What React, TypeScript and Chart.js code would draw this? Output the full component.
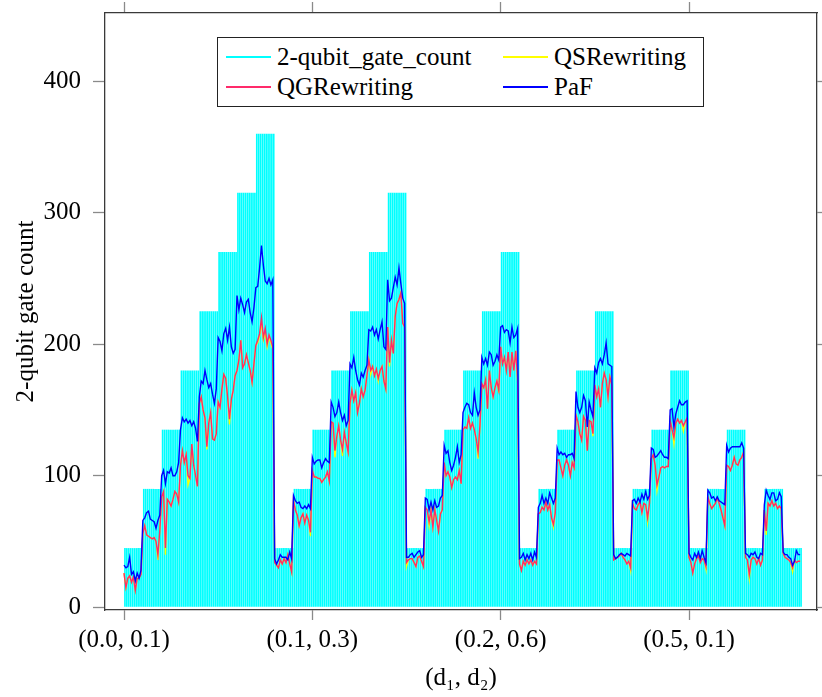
import React, { useEffect, useRef } from "react";
import { Chart, registerables } from "chart.js";

Chart.register(...registerables);

const SERIES_NAMES = ["2-qubit_gate_count", "QSRewriting", "QGRewriting", "PaF"];
const SERIES_COLORS = ["#00ffff", "#ffff00", "#ff2a6a", "#0000ff"];
const X_TICK_POSITIONS = [0, 100, 200, 300];
const X_TICK_LABELS = ["(0.0, 0.1)", "(0.1, 0.3)", "(0.2, 0.6)", "(0.5, 0.1)"];
const Y_TICKS = [0, 100, 200, 300, 400];
const X_TITLE = "(d\u2081, d\u2082)";
const Y_TITLE = "2-qubit gate count";

// 2-qubit gate count per configuration (360 configurations)
const GATE_COUNT = [
  45, 45, 45, 45, 45, 45, 45, 45, 45, 45,
  90, 90, 90, 90, 90, 90, 90, 90, 90, 90,
  135, 135, 135, 135, 135, 135, 135, 135, 135, 135,
  180, 180, 180, 180, 180, 180, 180, 180, 180, 180,
  225, 225, 225, 225, 225, 225, 225, 225, 225, 225,
  270, 270, 270, 270, 270, 270, 270, 270, 270, 270,
  315, 315, 315, 315, 315, 315, 315, 315, 315, 315,
  360, 360, 360, 360, 360, 360, 360, 360, 360, 360,
  45, 45, 45, 45, 45, 45, 45, 45, 45, 45,
  90, 90, 90, 90, 90, 90, 90, 90, 90, 90,
  135, 135, 135, 135, 135, 135, 135, 135, 135, 135,
  180, 180, 180, 180, 180, 180, 180, 180, 180, 180,
  225, 225, 225, 225, 225, 225, 225, 225, 225, 225,
  270, 270, 270, 270, 270, 270, 270, 270, 270, 270,
  315, 315, 315, 315, 315, 315, 315, 315, 315, 315,
  45, 45, 45, 45, 45, 45, 45, 45, 45, 45,
  90, 90, 90, 90, 90, 90, 90, 90, 90, 90,
  135, 135, 135, 135, 135, 135, 135, 135, 135, 135,
  180, 180, 180, 180, 180, 180, 180, 180, 180, 180,
  225, 225, 225, 225, 225, 225, 225, 225, 225, 225,
  270, 270, 270, 270, 270, 270, 270, 270, 270, 270,
  45, 45, 45, 45, 45, 45, 45, 45, 45, 45,
  90, 90, 90, 90, 90, 90, 90, 90, 90, 90,
  135, 135, 135, 135, 135, 135, 135, 135, 135, 135,
  180, 180, 180, 180, 180, 180, 180, 180, 180, 180,
  225, 225, 225, 225, 225, 225, 225, 225, 225, 225,
  45, 45, 45, 45, 45, 45, 45, 45, 45, 45,
  90, 90, 90, 90, 90, 90, 90, 90, 90, 90,
  135, 135, 135, 135, 135, 135, 135, 135, 135, 135,
  180, 180, 180, 180, 180, 180, 180, 180, 180, 180,
  45, 45, 45, 45, 45, 45, 45, 45, 45, 45,
  90, 90, 90, 90, 90, 90, 90, 90, 90, 90,
  135, 135, 135, 135, 135, 135, 135, 135, 135, 135,
  45, 45, 45, 45, 45, 45, 45, 45, 45, 45,
  90, 90, 90, 90, 90, 90, 90, 90, 90, 90,
  45, 45, 45, 45, 45, 45, 45, 45, 45, 45,
];

const QS_REWRITING = [
  26, 15, 22, 24, 19, 23, 13, 22, 22, 25,
  56, 62, 55, 54, 53, 52, 53, 50, 36, 58,
  84, 88, 40, 82, 80, 77, 82, 88, 86, 80,
  108, 119, 110, 116, 93, 98, 124, 108, 100, 92,
  155, 160, 150, 144, 120, 140, 148, 128, 127, 132,
  156, 152, 166, 177, 174, 160, 139, 158, 165, 176,
  180, 188, 203, 182, 185, 192, 186, 180, 171, 185,
  199, 201, 206, 216, 203, 208, 198, 205, 201, 196,
  34, 32, 30, 36, 33, 37, 34, 40, 33, 27,
  81, 74, 70, 62, 68, 71, 64, 70, 66, 54,
  104, 99, 99, 98, 98, 95, 97, 99, 103, 96,
  141, 140, 114, 130, 138, 127, 115, 133, 125, 118,
  153, 165, 157, 163, 148, 155, 166, 160, 165, 176,
  188, 177, 183, 176, 181, 172, 180, 183, 172, 166,
  213, 183, 203, 193, 221, 231, 234, 239, 216, 213,
  31, 36, 37, 37, 34, 31, 38, 39, 35, 31,
  76, 74, 62, 74, 61, 74, 66, 58, 71, 74,
  110, 100, 103, 99, 91, 97, 99, 97, 104, 94,
  135, 137, 136, 144, 136, 140, 135, 128, 113, 138,
  170, 167, 173, 151, 180, 167, 160, 167, 172, 163,
  198, 185, 190, 180, 194, 175, 194, 180, 195, 172,
  33, 28, 35, 32, 36, 33, 36, 32, 35, 33,
  71, 72, 76, 74, 80, 74, 78, 68, 61, 72,
  112, 112, 106, 100, 108, 112, 108, 100, 110, 106,
  146, 141, 132, 127, 145, 142, 119, 142, 141, 130,
  169, 160, 166, 152, 170, 178, 173, 160, 175, 169,
  36, 37, 38, 39, 41, 38, 36, 33, 35, 28,
  79, 75, 74, 78, 80, 72, 79, 78, 65, 79,
  113, 116, 108, 89, 99, 106, 107, 106, 107, 107,
  142, 135, 124, 140, 143, 140, 142, 134, 141, 144,
  38, 34, 26, 33, 37, 39, 34, 37, 36, 29,
  84, 79, 75, 77, 79, 83, 79, 74, 68, 62,
  108, 107, 104, 108, 114, 109, 108, 112, 114, 118,
  38, 36, 22, 36, 38, 37, 33, 37, 32, 36,
  74, 55, 79, 77, 81, 77, 79, 75, 77, 75,
  41, 38, 37, 36, 34, 27, 36, 34, 35, 35,
];

const QG_REWRITING = [
  26, 15, 22, 24, 19, 23, 13, 22, 22, 25,
  56, 62, 55, 54, 53, 52, 53, 50, 40, 58,
  84, 88, 45, 82, 80, 77, 82, 88, 86, 80,
  108, 119, 110, 116, 100, 98, 124, 108, 100, 92,
  155, 160, 150, 144, 122, 140, 148, 128, 127, 132,
  156, 152, 166, 177, 174, 160, 143, 158, 165, 176,
  180, 188, 203, 182, 185, 192, 186, 180, 171, 185,
  199, 203, 208, 220, 205, 212, 200, 207, 203, 198,
  34, 32, 30, 36, 33, 37, 34, 40, 33, 27,
  81, 74, 70, 62, 68, 71, 64, 70, 66, 57,
  104, 99, 99, 98, 98, 95, 97, 99, 103, 96,
  141, 140, 119, 130, 138, 127, 120, 133, 125, 118,
  155, 165, 157, 163, 148, 155, 166, 160, 165, 176,
  188, 180, 183, 176, 181, 174, 180, 183, 172, 166,
  213, 186, 203, 193, 221, 231, 234, 239, 216, 213,
  34, 36, 37, 37, 34, 31, 38, 39, 35, 31,
  76, 74, 65, 74, 61, 74, 66, 58, 71, 74,
  110, 100, 103, 99, 91, 97, 99, 97, 104, 94,
  135, 137, 136, 144, 136, 140, 135, 128, 118, 138,
  170, 167, 173, 151, 180, 167, 160, 167, 172, 165,
  198, 185, 190, 180, 194, 175, 194, 180, 195, 174,
  33, 28, 35, 32, 36, 33, 36, 32, 35, 33,
  71, 72, 76, 74, 80, 74, 78, 68, 63, 72,
  112, 112, 106, 100, 108, 112, 108, 100, 110, 106,
  146, 141, 132, 127, 145, 142, 119, 142, 141, 132,
  169, 160, 166, 152, 170, 178, 173, 160, 175, 169,
  36, 37, 38, 39, 41, 38, 36, 33, 35, 30,
  79, 75, 74, 78, 80, 72, 79, 78, 68, 79,
  113, 116, 108, 93, 99, 106, 107, 106, 107, 107,
  142, 135, 129, 140, 143, 140, 142, 138, 141, 144,
  38, 34, 26, 33, 37, 39, 34, 37, 36, 31,
  84, 79, 75, 77, 79, 83, 79, 74, 68, 62,
  108, 107, 104, 108, 114, 109, 108, 112, 114, 118,
  38, 36, 25, 36, 38, 37, 33, 37, 32, 36,
  74, 58, 79, 77, 81, 77, 79, 75, 77, 75,
  41, 38, 37, 36, 34, 30, 36, 34, 35, 35,
];

const PAF = [
  32, 30, 31, 38, 25, 27, 20, 26, 22, 28,
  66, 68, 72, 73, 67, 66, 65, 60, 66, 70,
  100, 104, 94, 103, 102, 106, 100, 100, 103, 110,
  135, 144, 141, 143, 140, 142, 138, 141, 136, 126,
  160, 172, 170, 180, 173, 167, 170, 162, 155, 166,
  205, 202, 195, 208, 212, 203, 213, 198, 193, 196,
  237, 226, 235, 230, 224, 232, 234, 224, 217, 228,
  243, 244, 258, 275, 260, 248, 246, 250, 245, 249,
  37, 33, 36, 40, 38, 38, 38, 36, 42, 37,
  85, 81, 79, 80, 76, 75, 77, 75, 78, 75,
  114, 109, 111, 112, 112, 106, 110, 113, 111, 110,
  156, 152, 145, 148, 156, 148, 142, 146, 138, 142,
  185, 182, 190, 180, 173, 169, 178, 175, 180, 184,
  211, 210, 213, 207, 211, 204, 211, 217, 198, 196,
  249, 233, 235, 243, 251, 245, 258, 246, 235, 231,
  38, 38, 40, 41, 38, 40, 42, 43, 38, 40,
  83, 82, 74, 80, 74, 81, 76, 77, 83, 85,
  123, 117, 119, 110, 104, 108, 114, 122, 110, 116,
  148, 152, 155, 154, 148, 146, 163, 152, 146, 150,
  190, 185, 189, 184, 194, 192, 184, 187, 192, 188,
  213, 214, 209, 211, 210, 201, 213, 205, 207, 212,
  37, 38, 41, 36, 40, 37, 41, 36, 42, 38,
  76, 79, 85, 79, 83, 79, 87, 83, 79, 83,
  121, 116, 118, 116, 117, 114, 116, 116, 117, 113,
  164, 152, 148, 152, 161, 157, 137, 156, 150, 145,
  182, 178, 186, 189, 185, 192, 201, 185, 184, 183,
  40, 37, 38, 40, 41, 40, 39, 41, 40, 39,
  81, 82, 79, 83, 80, 86, 82, 88, 82, 85,
  121, 120, 114, 115, 117, 119, 116, 114, 114, 113,
  150, 151, 137, 147, 152, 157, 154, 154, 156, 157,
  41, 38, 36, 41, 38, 42, 37, 43, 38, 34,
  89, 87, 83, 84, 81, 84, 81, 80, 79, 78,
  123, 118, 121, 122, 122, 122, 122, 122, 125, 121,
  41, 40, 38, 41, 40, 42, 38, 37, 41, 40,
  78, 89, 85, 82, 87, 87, 81, 82, 87, 84,
  42, 40, 40, 38, 37, 32, 35, 43, 40, 40,
];

const FONT_FAMILY = "'Liberation Serif', 'Times New Roman', serif";
const FONT_SIZE = 25;

export default function App() {
  const canvasRef = useRef<HTMLCanvasElement | null>(null);

  useEffect(() => {
    const canvas = canvasRef.current;
    if (!canvas) return;

    const X_MIN = -10.09;
    const X_MAX = 367.96;
    const Y_MIN = -2.05;
    const Y_MAX = 451.7;
    const font = { family: FONT_FAMILY, size: FONT_SIZE };
    const setXTicks = (s: any) => {
      s.ticks = X_TICK_POSITIONS.map((v) => ({ value: v }));
    };
    const setYTicks = (s: any) => {
      s.ticks = Y_TICKS.map((v) => ({ value: v }));
    };
    const noPad = (s: any) => {
      s.paddingTop = 0;
      s.paddingBottom = 0;
      s.paddingLeft = 0;
      s.paddingRight = 0;
    };
    const border = { display: true, color: "#3a3a3a", width: 1.3 };
    const grid = (len: number) => ({
      offset: false,
      drawOnChartArea: false,
      drawTicks: true,
      tickLength: len,
      tickColor: "#8a8a8a",
      tickWidth: 1.3,
    });

    const lineDs = (idx: number, values: number[], order: number) => ({
      type: "line" as const,
      label: SERIES_NAMES[idx],
      data: values.map((v, i) => ({ x: i, y: v })),
      borderColor: SERIES_COLORS[idx],
      backgroundColor: SERIES_COLORS[idx],
      borderWidth: 1.4,
      pointRadius: 0,
      tension: 0,
      fill: false,
      order,
    });

    const chart = new Chart(canvas, {
      type: "bar",
      data: {
        datasets: [
          {
            type: "bar",
            label: SERIES_NAMES[0],
            data: GATE_COUNT.map((v, i) => ({ x: i + 0.5, y: v })),
            backgroundColor: SERIES_COLORS[0],
            borderWidth: 0,
            barPercentage: 0.88,
            categoryPercentage: 1,
            order: 4,
          } as any,
          lineDs(1, QS_REWRITING, 3),
          lineDs(2, QG_REWRITING, 2),
          lineDs(3, PAF, 1),
        ],
      },
      options: {
        animation: false,
        responsive: false,
        devicePixelRatio: 1,
        events: [],
        layout: { padding: 0 },
        plugins: {
          legend: { display: false },
          tooltip: { enabled: false },
        },
        scales: {
          x: {
            type: "linear",
            position: "bottom",
            min: X_MIN,
            max: X_MAX,
            offset: false,
            afterBuildTicks: setXTicks,
            afterFit: (s: any) => {
              s.height = 87;
              noPad(s);
            },
            ticks: {
              callback: (v: any) => {
                const k = X_TICK_POSITIONS.indexOf(Number(v));
                return k >= 0 ? X_TICK_LABELS[k] : "";
              },
              font,
              color: "#000",
              maxRotation: 0,
              autoSkip: false,
              padding: 5,
            },
            grid: grid(10),
            border,
            title: {
              display: true,
              text: X_TITLE,
              font,
              color: "#000",
              padding: { top: 0, bottom: 4 },
            },
          },
          x2: {
            type: "linear",
            position: "top",
            min: X_MIN,
            max: X_MAX,
            offset: false,
            afterBuildTicks: setXTicks,
            afterFit: (s: any) => {
              s.height = 13;
              noPad(s);
            },
            ticks: { display: false },
            grid: grid(11),
            border,
          },
          y: {
            type: "linear",
            position: "left",
            min: Y_MIN,
            max: Y_MAX,
            afterBuildTicks: setYTicks,
            afterFit: (s: any) => {
              s.width = 105;
              noPad(s);
            },
            ticks: { font, color: "#000", padding: 12 },
            grid: grid(12),
            border,
            title: {
              display: true,
              text: Y_TITLE,
              font,
              color: "#000",
              padding: { top: 11, bottom: 0 },
            },
          },
          y2: {
            type: "linear",
            position: "right",
            min: Y_MIN,
            max: Y_MAX,
            afterBuildTicks: setYTicks,
            afterFit: (s: any) => {
              s.width = 5;
              noPad(s);
            },
            ticks: { display: false },
            grid: grid(5),
            border,
          },
        },
      } as any,
    });

    return () => {
      chart.destroy();
    };
  }, []);

  return (
    <div style={{ position: "absolute", left: 0, top: 0, width: 822, height: 697, background: "#fff" }}>
      <canvas ref={canvasRef} width={822} height={697} style={{ display: "block" }} />
      <div
        style={{
          position: "absolute",
          left: 217,
          top: 37,
          width: 487,
          height: 70,
          boxSizing: "border-box",
          border: "1.3px solid #222",
          background: "#fff",
        }}
      >
        {SERIES_NAMES.map((name, i) => {
          const col = i % 2;
          const row = Math.floor(i / 2);
          return (
            <div
              key={name}
              style={{
                position: "absolute",
                left: 8 + col * 277,
                top: 4 + row * 30,
                height: 30,
                display: "flex",
                alignItems: "center",
                whiteSpace: "nowrap",
              }}
            >
              <div
                style={{
                  width: 45,
                  height: 2,
                  background: SERIES_COLORS[i],
                  marginRight: 6,
                  flex: "none",
                }}
              />
              <span style={{ fontFamily: FONT_FAMILY, fontSize: FONT_SIZE, lineHeight: "30px", color: "#000" }}>
                {name}
              </span>
            </div>
          );
        })}
      </div>
    </div>
  );
}
